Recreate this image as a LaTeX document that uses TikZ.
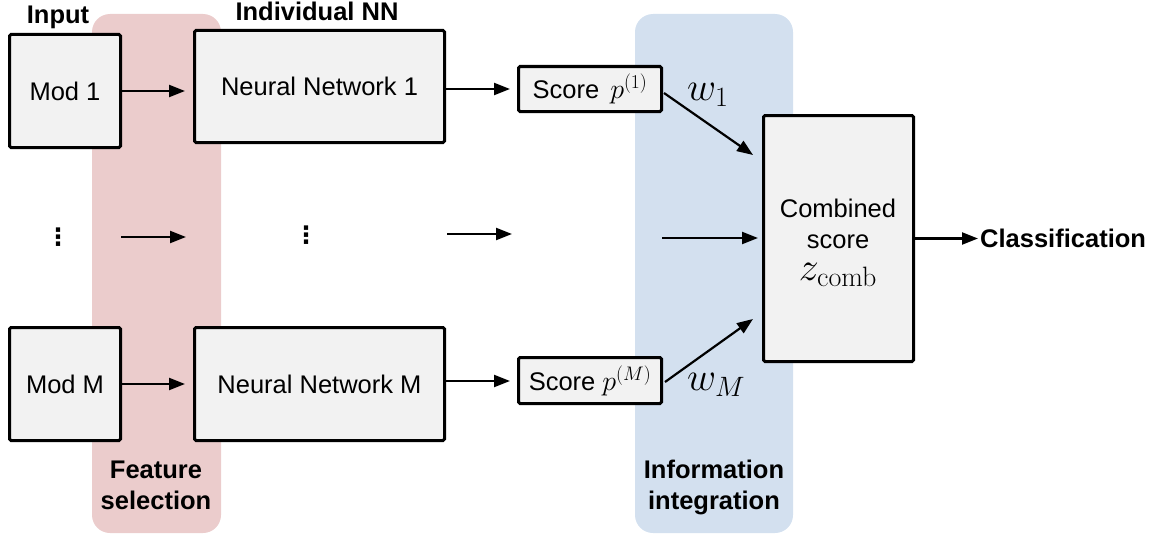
\RequirePackage{fix-cm}
\documentclass[tikz,border=0pt]{standalone}
\usepackage[no-math]{fontspec}
\setmainfont{Liberation Sans}
\newfontfamily\dejavu{DejaVu Sans}
\usetikzlibrary{arrows.meta,calc}
\definecolor{bandpink}{HTML}{EBCCCC}
\definecolor{bandblue}{HTML}{D3E0EF}
\definecolor{boxgray}{HTML}{F2F2F2}
\newcommand{\mthb}[1]{{\fontsize{28}{31}\selectfont$#1$}}
\tikzset{
  band/.style={rounded corners=18pt, draw=none},
  blk/.style={draw=black, line width=3pt, fill=boxgray, rounded corners=1.5pt, inner sep=0pt, align=center,
    font=\fontsize{25.5}{31}\selectfont},
  conn/.style={line width=2.2pt, -{Triangle[length=16pt,width=12pt]}},
  lbl/.style={font=\fontsize{25.5}{31}\selectfont\bfseries, inner sep=0pt, align=center},
  wlab/.style={font=\fontsize{40}{44}\selectfont, inner sep=0pt, anchor=base west},
  dotsym/.style={font=\dejavu\bfseries\fontsize{24}{28}\selectfont, inner sep=0pt}
}
\begin{document}
\begin{tikzpicture}[x=1pt,y=-1pt]
\useasboundingbox (0,0) rectangle (1161,535);
% bands
\fill[band, fill=bandpink] (92,14) rectangle (221,533);
\fill[band, fill=bandblue] (635,14) rectangle (793,533);
% boxes
\node[blk, minimum width=111pt, minimum height=113pt] (mod1) at (65,91) {Mod 1};
\node[blk, minimum width=250pt, minimum height=112pt] (nn1) at (319.5,86.5) {Neural Network 1};
\node[blk, minimum width=143pt, minimum height=45pt] (s1) at (590,89) {Score\hspace{4pt} \mthb{p^{(1)}}};
\node[blk, minimum width=111pt, minimum height=113pt] (modM) at (65,384) {Mod M};
\node[blk, minimum width=250pt, minimum height=113pt] (nnM) at (319.5,384) {Neural Network M};
\node[blk, minimum width=143pt, minimum height=46pt] (sM) at (590,380.5) {Score \mthb{p^{(M)}}};
\node[blk, minimum width=150pt, minimum height=246pt] (comb) at (838.5,238.5) {};
\node[font=\fontsize{25.5}{31}\selectfont, inner sep=0pt, align=center, anchor=north] (combtxt) at (838,199)
  {Combined\\score\\[1pt]{\fontsize{40}{44}\selectfont$z_{\mathrm{comb}}$}};
% labels
\node[lbl, anchor=base] (inp) at (58,24) {Input};
\node[lbl, anchor=base] (ind) at (317,21) {Individual NN};
\node[lbl] (fs) at (156,485.5) {Feature\\selection};
\node[lbl] (ii) at (714,487) {Information\\integration};
\node[lbl, anchor=west] (cls) at (980,238.5) {Classification};
% weights
\node[wlab] (w1) at (687,100) {$w_1$};
\node[wlab] (wM) at (687,390) {$w_M$};
% middle row
\node[dotsym, anchor=base] (d1) at (58,245) {⋮};
\node[dotsym, anchor=base] (d2) at (306,243) {⋮};
\coordinate (ma1) at (121,237);
\coordinate (mb1) at (186,237);
\coordinate (ma2) at (447,234);
\coordinate (mb2) at (512,234);
\coordinate (ma3) at (662,238);
% connectors
\draw[conn, shorten >=8pt] (mod1.east) -- (nn1.west |- mod1.east);
\draw[conn, shorten >=7pt] (nn1.east |- s1.west) -- (s1.west);
\draw[conn, shorten >=8pt] (modM.east) -- (nnM.west |- modM.east);
\draw[conn, shorten >=7pt] ($(nnM.east |- sM.west)+(0,0.5)$) -- ($(sM.west)+(0,0.5)$);
\draw[conn] ($(s1.east)+(1,4)$) -- ($(comb.west)+(-9,-83.5)$);
\draw[conn] ($(sM.east)+(2,1.5)$) -- ($(comb.west)+(-9,80.5)$);
\draw[conn] (ma1) -- (mb1);
\draw[conn] (ma2) -- (mb2);
\draw[conn, shorten >=4pt] (ma3) -- (comb.west |- ma3);
\draw[conn, shorten >=2pt] (comb.east) -- (cls.west);
\end{tikzpicture}
\end{document}
